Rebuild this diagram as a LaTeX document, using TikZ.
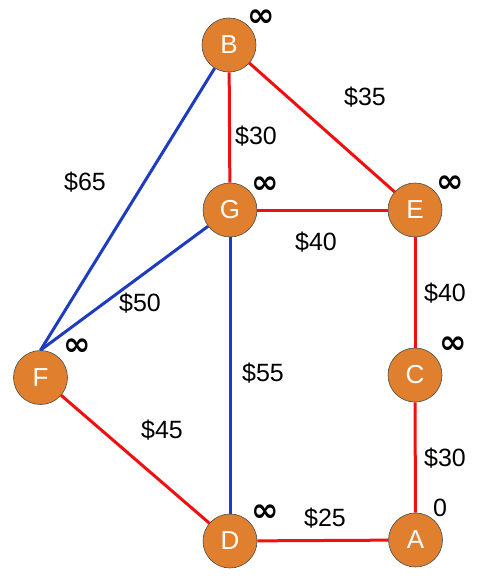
\documentclass[tikz,border=0pt]{standalone}
\usepackage{fontspec}
\setmainfont{Liberation Sans}
\newfontfamily\inffont{DejaVu Sans}
\definecolor{nodeorange}{HTML}{E07F2E}
\definecolor{edgered}{HTML}{F01010}
\definecolor{edgeblue}{HTML}{1E3CC0}
\begin{document}
\begin{tikzpicture}[x=1pt,y=-1pt,
  vert/.style={circle,fill=nodeorange,draw=black!70,line width=0.6pt,minimum size=54pt,inner sep=0pt,text=white,font=\fontsize{26}{28}\selectfont},
  lbl/.style={font=\fontsize{25}{28}\selectfont,text=black,inner sep=0pt},
  inf/.style={font=\inffont\bfseries\fontsize{33}{34}\selectfont,text=black,inner sep=0pt},
  redge/.style={draw=edgered,line width=3pt},
  bedge/.style={draw=edgeblue,line width=3pt}]
\useasboundingbox (0,0) rectangle (503,578);
\node[vert] (B) at (229,45) {B};
\node[vert] (G) at (230,210) {G};
\node[vert] (E) at (415,210) {E};
\node[vert] (F) at (40.5,377.5) {F};
\node[vert] (C) at (415,375) {C};
\node[vert] (D) at (230,541) {D};
\node[vert] (A) at (415.5,540) {A};
\path[redge] (B) -- (G);
\path[redge] (B) -- (E);
\path[redge] (G) -- (E);
\path[redge] (E) -- (C);
\path[redge] (C) -- (A);
\path[redge] (D) -- (A);
\path[redge] (F) -- (D);
\path[bedge] (B) -- (F.north);
\path[bedge] (G) -- (F.north);
\path[bedge] (G) -- (D);
\node[inf] (iB) at (261,18) {∞};
\node[inf] (iG) at (265,185) {∞};
\node[inf] (iE) at (450,184) {∞};
\node[inf] (iC) at (453,345) {∞};
\node[inf] (iF) at (77,347) {∞};
\node[inf] (iD) at (265,513) {∞};
\node[lbl] (zA) at (440,508) {0};
\node[lbl] (l35) at (365,97) {\$35};
\node[lbl] (l30a) at (256,136) {\$30};
\node[lbl] (l65) at (85,182) {\$65};
\node[lbl] (l40a) at (316,242) {\$40};
\node[lbl] (l50) at (140,303) {\$50};
\node[lbl] (l40b) at (445,293) {\$40};
\node[lbl] (l55) at (263,373) {\$55};
\node[lbl] (l45) at (162,430) {\$45};
\node[lbl] (l30b) at (445,458) {\$30};
\node[lbl] (l25) at (325,518) {\$25};
\end{tikzpicture}
\end{document}
